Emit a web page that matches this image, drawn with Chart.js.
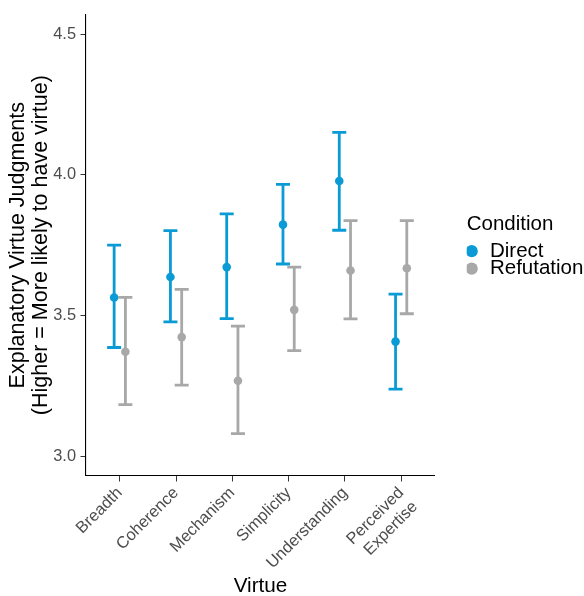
<!DOCTYPE html>
<html>
<head>
<meta charset="utf-8">
<script src="https://cdn.jsdelivr.net/npm/chart.js@4/dist/chart.umd.min.js"></script>
<style>
  html, body { margin: 0; padding: 0; background: #ffffff; }
  #wrap { width: 584px; height: 596px; position: relative; }
</style>
</head>
<body>
<div id="wrap"><canvas id="c" width="584" height="596"></canvas></div>
<script>
// ---- Data ----
const categories = ['Breadth', 'Coherence', 'Mechanism', 'Simplicity', 'Understanding', 'Perceived\nExpertise'];
const seriesNames = ['Direct', 'Refutation'];
const directMean  = [3.564, 3.637, 3.672, 3.823, 3.978, 3.407];
const directLow   = [3.386, 3.477, 3.489, 3.683, 3.803, 3.238];
const directHigh  = [3.750, 3.802, 3.861, 3.966, 4.151, 3.576];
const refutMean   = [3.371, 3.423, 3.268, 3.520, 3.660, 3.668];
const refutLow    = [3.183, 3.252, 3.080, 3.375, 3.488, 3.506];
const refutHigh   = [3.564, 3.593, 3.462, 3.672, 3.837, 3.837];
const yTicks = [3.0, 3.5, 4.0, 4.5];

const FONT = "'Liberation Sans', Arial, Helvetica, sans-serif";
const colDirect = '#0a9bd6';
const colRefut = '#a8a8a8';
const dodge = 0.1;
const LEGEND_LEFT = 466.7;

function makeData(means, sign) {
  return means.map((v, i) => ({ x: i + sign * dodge, y: v }));
}

const errorBars = [
  { low: directLow, high: directHigh },
  { low: refutLow, high: refutHigh }
];

const errorBarPlugin = {
  id: 'errorBars',
  beforeDatasetsDraw(chart) {
    const ctx = chart.ctx;
    const yScale = chart.scales.y;
    chart.data.datasets.forEach((ds, di) => {
      const meta = chart.getDatasetMeta(di);
      const eb = errorBars[di];
      ctx.save();
      ctx.strokeStyle = ds.borderColor;
      ctx.lineWidth = 2.8;
      ctx.lineCap = 'butt';
      meta.data.forEach((pt, i) => {
        const x = pt.x;
        const yl = yScale.getPixelForValue(eb.low[i]);
        const yh = yScale.getPixelForValue(eb.high[i]);
        const hw = 7;
        ctx.beginPath();
        ctx.moveTo(x, yl); ctx.lineTo(x, yh);
        ctx.moveTo(x - hw, yl); ctx.lineTo(x + hw, yl);
        ctx.moveTo(x - hw, yh); ctx.lineTo(x + hw, yh);
        ctx.stroke();
      });
      ctx.restore();
    });
  }
};

// Move the legend block to the right of the panel, leaving the panel width as laid out
const legendShiftPlugin = {
  id: 'legendShift',
  afterLayout(chart) {
    const lg = chart.legend;
    if (!lg) return;
    const dx = LEGEND_LEFT - lg.left;
    lg.left += dx;
    lg.right += dx;
  }
};

new Chart(document.getElementById('c'), {
  type: 'scatter',
  data: {
    datasets: [
      { label: seriesNames[0], data: makeData(directMean, -1), backgroundColor: colDirect, borderColor: colDirect, pointRadius: 4.3, pointBorderWidth: 0, pointStyle: 'circle' },
      { label: seriesNames[1], data: makeData(refutMean, 1), backgroundColor: colRefut, borderColor: colRefut, pointRadius: 4.3, pointBorderWidth: 0, pointStyle: 'circle' }
    ]
  },
  plugins: [errorBarPlugin, legendShiftPlugin],
  options: {
    responsive: false,
    animation: false,
    devicePixelRatio: 1,
    layout: { padding: { top: 12, right: 22.35, bottom: 0, left: 0 } },
    plugins: {
      tooltip: { enabled: false },
      legend: {
        display: true,
        position: 'right',
        fullSize: false,
        align: 'center',
        title: { display: true, text: 'Condition', position: 'start', color: '#000', font: { family: FONT, size: 20.5, lineHeight: 1.2 }, padding: { top: 0, bottom: 4.9 } },
        labels: {
          usePointStyle: true,
          pointStyle: 'circle',
          boxWidth: 16,
          boxHeight: 8.6,
          padding: -3,
          color: '#000',
          font: { family: FONT, size: 20.5 }
        }
      }
    },
    scales: {
      x: {
        type: 'linear',
        min: -0.6,
        max: 5.6,
        afterBuildTicks(scale) { scale.ticks = categories.map((c, i) => ({ value: i })); },
        afterFit(scale) { scale.height = 120; },
        border: { display: true, color: '#000', width: 1.1 },
        grid: { display: true, drawOnChartArea: false, drawTicks: true, tickLength: 5.5, color: '#333', tickColor: '#333' },
        ticks: {
          autoSkip: false,
          minRotation: 45,
          maxRotation: 45,
          padding: 2,
          color: '#4d4d4d',
          font: { family: FONT, size: 16.4 },
          callback(v) { const c = categories[Math.round(v)]; return c ? c.split('\n') : ''; }
        },
        title: { display: true, text: 'Virtue', color: '#000', font: { family: FONT, size: 20.7, lineHeight: 1.0 }, padding: { top: 0, bottom: -1 } }
      },
      y: {
        type: 'linear',
        position: 'left',
        min: 2.929,
        max: 4.571,
        afterBuildTicks(scale) { scale.ticks = yTicks.map(v => ({ value: v })); },
        afterFit(scale) { scale.width = 86; },
        border: { display: true, color: '#000', width: 1.1 },
        grid: { display: true, drawOnChartArea: false, drawTicks: true, tickLength: 5.5, color: '#333', tickColor: '#333' },
        ticks: {
          padding: 4.5,
          color: '#4d4d4d',
          font: { family: FONT, size: 16.4 },
          callback(v) { return Number(v).toFixed(1); }
        },
        title: { display: true, text: ['Explanatory Virtue Judgments', '(Higher = More likely to have virtue)'], color: '#000', font: { family: FONT, size: 21.5, lineHeight: 1.093 }, padding: { top: 6.25, bottom: 0 } }
      }
    }
  }
});
</script>
</body>
</html>
